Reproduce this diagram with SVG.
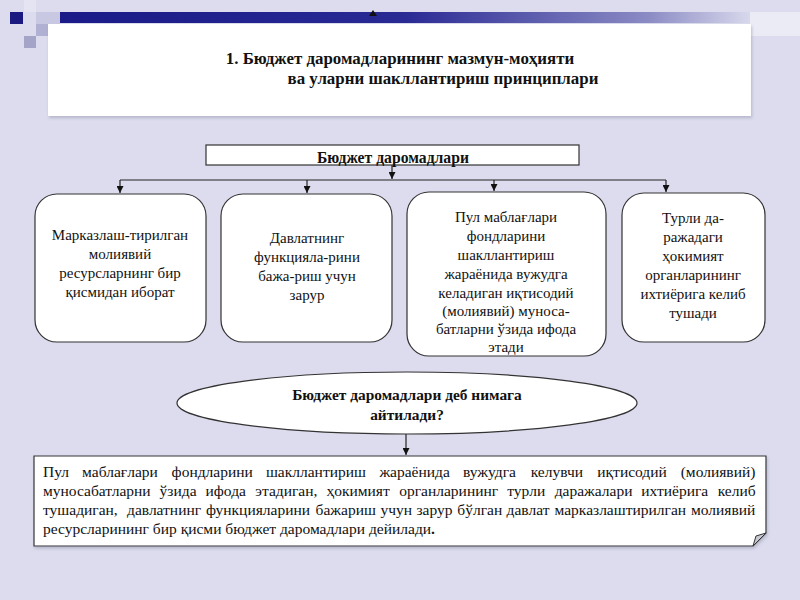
<svg xmlns="http://www.w3.org/2000/svg" width="800" height="600" viewBox="0 0 800 600">
<defs>
<linearGradient id="band" x1="0" y1="0" x2="1" y2="0">
<stop offset="0" stop-color="#1a1a88"/>
<stop offset="0.5" stop-color="#2a2a95"/>
<stop offset="0.85" stop-color="#8a8ac4"/>
<stop offset="1" stop-color="#d8d8ec"/>
</linearGradient>
<marker id="ah" markerUnits="userSpaceOnUse" markerWidth="8" markerHeight="7" refX="7" refY="3.5" orient="auto" viewBox="0 0 8 7">
<path d="M0,0 L7,3.5 L0,7 Z" fill="#111"/>
</marker>
<filter id="sh" x="-5%" y="-5%" width="110%" height="120%">
<feDropShadow dx="1" dy="2" stdDeviation="1.5" flood-color="#9090a8" flood-opacity="0.5"/>
</filter>
</defs>
<style>
.box{fill:#fff;stroke:#333;stroke-width:1.2}
.t{font-family:"Liberation Serif","Times New Roman",serif;font-size:15px;fill:#111;text-anchor:middle}
.b{font-family:"Liberation Serif","Times New Roman",serif;font-size:16px;font-weight:bold;fill:#111;text-anchor:middle}
.body{font-family:"Liberation Serif","Times New Roman",serif;font-size:15.5px;fill:#111}
.con{fill:none;stroke:#222;stroke-width:1.2}
</style>
<rect width="800" height="600" fill="#dcdcee"/>
<rect x="750" y="12" width="50" height="24" fill="#ebebf6"/>
<rect x="24" y="0" width="12" height="12" fill="#e4e4f2"/>
<rect x="36" y="12" width="24" height="12" fill="#c8c8e2"/>
<rect x="36" y="24" width="12" height="12" fill="#b0b0d2"/>
<rect x="24" y="36" width="12" height="12" fill="#a4a4c8"/>
<rect x="10" y="12" width="13" height="12" fill="#1a1a80"/>
<rect x="60" y="12" width="690" height="11" fill="url(#band)"/>
<polygon points="369,16 373,10 377,16" fill="#111"/>
<g id="title">
<rect x="48" y="24" width="703" height="92" fill="#fff" filter="url(#sh)"/>
<text class="b" style="font-size:16.9px"><tspan x="400" y="64">1. Бюджет даромадларининг мазмун-моҳияти</tspan><tspan x="443" y="84">ва уларни шакллантириш принциплари</tspan></text>
</g>
<g id="connectors">
<path class="con" d="M392,165 V179" marker-end="url(#ah)"/>
<path class="con" d="M120,180 H666"/>
<path class="con" d="M120,180 V193" marker-end="url(#ah)"/>
<path class="con" d="M307,180 V193" marker-end="url(#ah)"/>
<path class="con" d="M494,180 V191" marker-end="url(#ah)"/>
<path class="con" d="M666,180 V192" marker-end="url(#ah)"/>
<path class="con" d="M406,434 V455" marker-end="url(#ah)"/>
</g>
<g id="root">
<rect class="box" x="206" y="145" width="373" height="20"/>
<text class="b" x="393" y="163" style="font-size:15.7px">Бюджет даромадлари</text>
</g>
<g id="n1">
<rect class="box" x="35" y="194" width="171" height="148" rx="22"/>
<text class="t"><tspan x="120" y="240">Марказлаш-тирилган</tspan><tspan x="120" y="259">молиявий</tspan><tspan x="120" y="278">ресурсларнинг бир</tspan><tspan x="120" y="297">қисмидан иборат</tspan></text>
</g>
<g id="n2">
<rect class="box" x="221" y="194" width="171" height="148" rx="22"/>
<text class="t"><tspan x="307" y="243">Давлатнинг</tspan><tspan x="307" y="262">функцияла-рини</tspan><tspan x="307" y="281">бажа-риш учун</tspan><tspan x="307" y="300">зарур</tspan></text>
</g>
<g id="n3">
<rect class="box" x="407" y="192" width="199" height="164" rx="22"/>
<text class="t"><tspan x="506" y="222">Пул маблағлари</tspan><tspan x="506" y="241">фондларини</tspan><tspan x="506" y="260">шакллантириш</tspan><tspan x="506" y="279">жараёнида вужудга</tspan><tspan x="506" y="298">келадиган иқтисодий</tspan><tspan x="506" y="316">(молиявий) муноса-</tspan><tspan x="506" y="334">батларни ўзида ифода</tspan><tspan x="506" y="352">этади</tspan></text>
</g>
<g id="n4">
<rect class="box" x="622" y="193" width="143" height="149" rx="22"/>
<text class="t"><tspan x="693" y="223">Турли да-</tspan><tspan x="693" y="242">ражадаги</tspan><tspan x="693" y="261">ҳокимият</tspan><tspan x="693" y="280">органларининг</tspan><tspan x="693" y="299">ихтиёрига келиб</tspan><tspan x="693" y="318">тушади</tspan></text>
</g>
<g id="question">
<ellipse class="box" cx="407" cy="403" rx="230" ry="31"/>
<text class="b" style="font-size:15.4px"><tspan x="407" y="400">Бюджет даромадлари деб нимага</tspan><tspan x="407" y="420">айтилади?</tspan></text>
</g>
<g id="definition">
<path d="M34,456 H766 V533 L753,546 H34 Z" fill="#fff" stroke="#333" stroke-width="1.2" filter="url(#sh)"/>
<path d="M766,533 L753,546 L756,536 Z" fill="#c8c8d0" stroke="#333" stroke-width="1"/>
<text class="body">
<tspan x="43" y="477">Пул</tspan><tspan x="82.1" y="477">маблағлари</tspan><tspan x="171.6" y="477">фондларини</tspan><tspan x="265.9" y="477">шакллантириш</tspan><tspan x="379.4" y="477">жараёнида</tspan><tspan x="463" y="477">вужудга</tspan><tspan x="530.7" y="477">келувчи</tspan><tspan x="597.3" y="477">иқтисодий</tspan><tspan x="680.7" y="477">(молиявий)</tspan>
<tspan x="43" y="496">муносабатларни</tspan><tspan x="159.6" y="496">ўзида</tspan><tspan x="205.5" y="496">ифода</tspan><tspan x="255.3" y="496">этадиган,</tspan><tspan x="326.4" y="496">ҳокимият</tspan><tspan x="399.2" y="496">органларининг</tspan><tspan x="507.3" y="496">турли</tspan><tspan x="554.7" y="496">даражалари</tspan><tspan x="641.3" y="496">ихтиёрига</tspan><tspan x="717.7" y="496">келиб</tspan>
<tspan x="43" y="515">тушадиган,</tspan><tspan x="127" y="515">давлатнинг</tspan><tspan x="205.9" y="515">функцияларини</tspan><tspan x="315.6" y="515">бажариш</tspan><tspan x="380.5" y="515">учун</tspan><tspan x="416.5" y="515">зарур</tspan><tspan x="457.3" y="515">бўлган</tspan><tspan x="506.6" y="515">давлат</tspan><tspan x="554.5" y="515">марказлаштирилган</tspan><tspan x="690.9" y="515">молиявий</tspan>
<tspan x="43" y="534">ресурсларининг бир қисми бюджет даромадлари дейилади</tspan><tspan font-weight="bold">.</tspan>
</text>
</g>
</svg>
